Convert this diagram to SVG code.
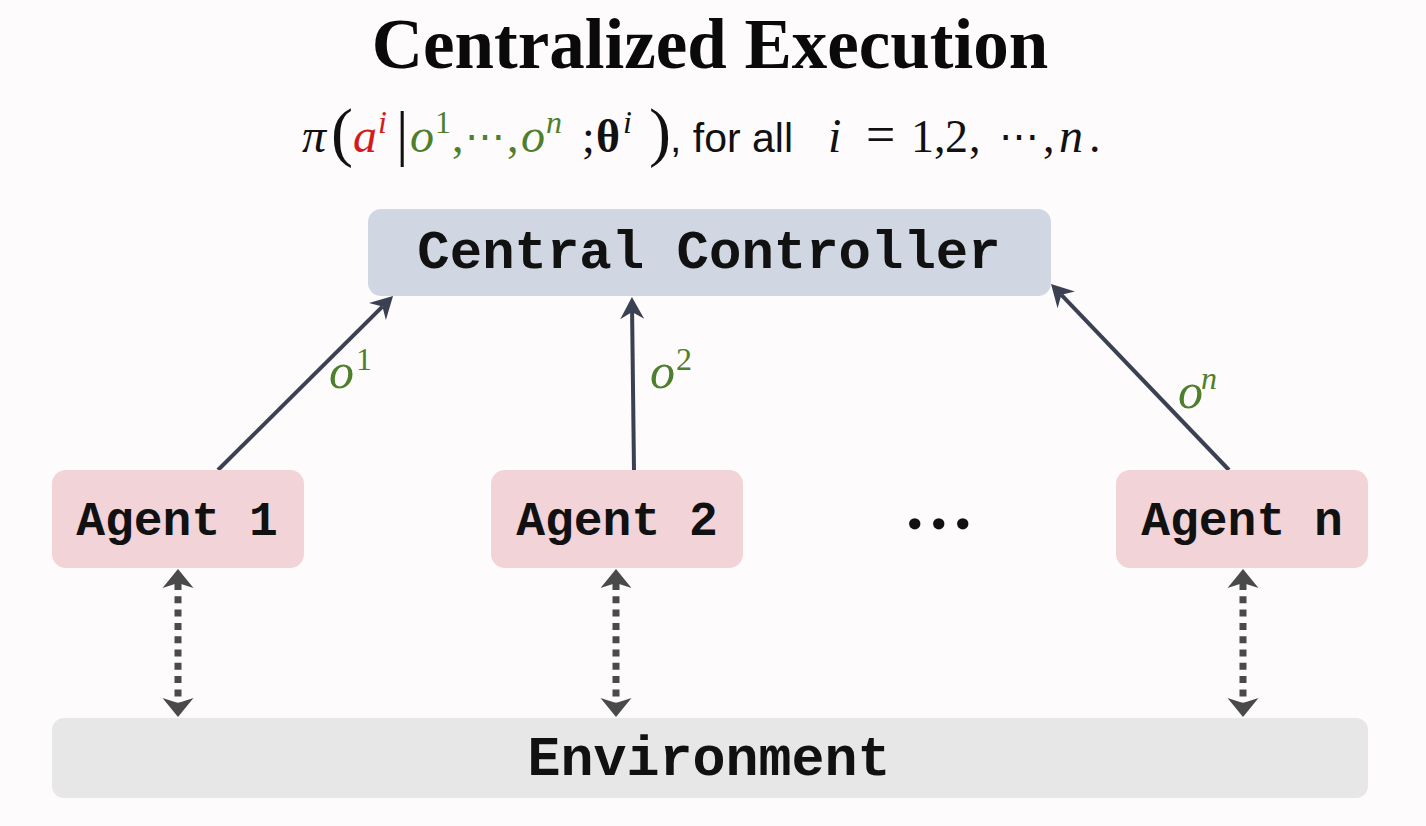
<svg xmlns="http://www.w3.org/2000/svg" width="1426" height="826" viewBox="0 0 1426 826">
<defs>
<style>
.mono{font-family:"Liberation Mono","Courier New",monospace;font-weight:bold;fill:#111;text-anchor:middle}
.m{font-family:"Liberation Serif","Times New Roman",serif;font-style:italic;font-size:48px}
.u{font-family:"Liberation Serif","Times New Roman",serif;font-size:46px}
.g{fill:#4e7f2c}
.r{fill:#d21c1c}
.k{fill:#111}
.agent{fill:#f2d4d8}
.solid{stroke:#3b4152;stroke-width:4;fill:none;marker-end:url(#ah)}
.dot{stroke:#4a4a4a;stroke-width:7;fill:none;stroke-dasharray:7 6.3;marker-start:url(#dh);marker-end:url(#dh)}
</style>
<marker id="ah" markerUnits="userSpaceOnUse" viewBox="-8 -13 24 26" refX="0" refY="0" markerWidth="24" markerHeight="26" orient="auto">
<path d="M15,0 L-7,-12 L0,0 L-7,12 Z" fill="#3b4152"/>
</marker>
<marker id="dh" markerUnits="userSpaceOnUse" viewBox="-6 -17 21 34" refX="0" refY="0" markerWidth="21" markerHeight="34" orient="auto-start-reverse">
<path d="M14,0 L-5,-15.5 L0,0 L-5,15.5 Z" fill="#4a4a4a"/>
</marker>
</defs>
<rect width="1426" height="826" fill="#fdfbfc"/>

<g id="title">
<text x="710" y="68" text-anchor="middle" font-family="Liberation Serif, Times New Roman, serif" font-weight="bold" font-size="71" fill="#0a0a0a">Centralized Execution</text>
</g>

<g id="formula">
<text class="m k" x="302" y="152">π</text>
<text class="u k" x="331" y="154" style="font-size:66px">(</text>
<text class="m r" x="353" y="152">a</text>
<text class="m r" x="378" y="133" style="font-size:32px">i</text>
<text class="u k" x="396" y="154" style="font-size:62px">|</text>
<text class="m g" x="410" y="152">o</text>
<text class="u g" x="435" y="133" style="font-size:32px">1</text>
<text class="u g" x="452" y="152">,</text>
<text class="g" x="465" y="150" font-family="DejaVu Serif, serif" font-size="40">⋯</text>
<text class="u g" x="507" y="152">,</text>
<text class="m g" x="521" y="152">o</text>
<text class="m g" x="546" y="133" style="font-size:32px">n</text>
<text class="u k" x="582" y="152">;</text>
<text class="u k" x="596" y="152" font-weight="bold">θ</text>
<text class="m k" x="623" y="133" style="font-size:32px">i</text>
<text class="u k" x="649" y="154" style="font-size:66px">)</text>
<text x="670" y="152" font-family="Liberation Sans, Arial, sans-serif" font-size="41" fill="#111">, for all</text>
<text class="m k" x="828" y="152">i</text>
<text class="u k" x="866" y="152" style="font-size:52px">=</text>
<text class="u k" x="911" y="152">1</text>
<text class="u k" x="934" y="152">,</text>
<text class="u k" x="945" y="152">2</text>
<text class="u k" x="969" y="152">,</text>
<text class="k" x="999" y="150" font-family="DejaVu Serif, serif" font-size="40">⋯</text>
<text class="u k" x="1043" y="152">,</text>
<text class="m k" x="1059" y="152">n</text>
<text class="u k" x="1089" y="152">.</text>
</g>

<g id="connectors">
<line class="solid" x1="218" y1="470" x2="382.4" y2="306.6"/>
<line class="solid" x1="634" y1="470" x2="632.1" y2="312"/>
<line class="solid" x1="1229" y1="470" x2="1061.4" y2="294.8"/>
<line class="dot" x1="178" y1="583" x2="178" y2="703"/>
<line class="dot" x1="616" y1="583" x2="616" y2="703"/>
<line class="dot" x1="1243" y1="583" x2="1243" y2="703"/>
<text class="m g" x="329" y="388" style="font-size:50px">o</text>
<text class="u g" x="356" y="370" style="font-size:32px">1</text>
<text class="m g" x="650" y="388" style="font-size:50px">o</text>
<text class="u g" x="676" y="370" style="font-size:32px">2</text>
<text class="m g" x="1178" y="408" style="font-size:50px">o</text>
<text class="m g" x="1201" y="389" style="font-size:32px">n</text>
</g>

<g id="central-controller">
<rect x="368" y="209" width="683" height="87" rx="13" fill="#d1d7e2"/>
<text class="mono" x="709" y="268" font-size="54">Central Controller</text>
</g>

<g id="agent-1">
<rect class="agent" x="52" y="470" width="252" height="98" rx="14"/>
<text class="mono" x="177" y="535" font-size="48">Agent 1</text>
</g>

<g id="agent-2">
<rect class="agent" x="491" y="470" width="252" height="98" rx="14"/>
<text class="mono" x="617" y="535" font-size="48">Agent 2</text>
</g>

<g id="ellipsis">
<text x="906" y="529" font-family="Liberation Serif, Times New Roman, serif" font-weight="bold" font-size="70" letter-spacing="6.5" fill="#111">...</text>
</g>

<g id="agent-n">
<rect class="agent" x="1116" y="470" width="252" height="98" rx="14"/>
<text class="mono" x="1242" y="535" font-size="48">Agent n</text>
</g>

<g id="environment">
<rect x="52" y="718" width="1316" height="80" rx="12" fill="#e8e7e8"/>
<text class="mono" x="709" y="775" font-size="55">Environment</text>
</g>
</svg>
